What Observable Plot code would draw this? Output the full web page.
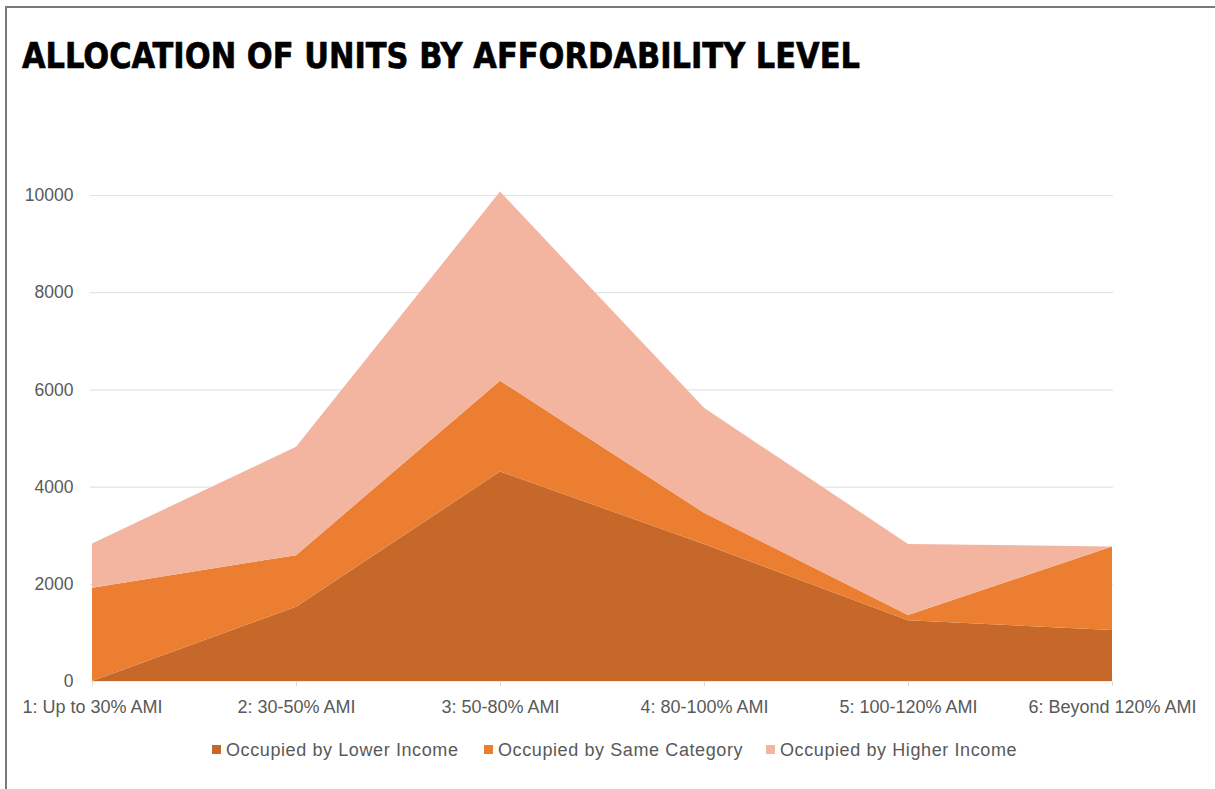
<!DOCTYPE html>
<html>
<head>
<meta charset="utf-8">
<script src="https://cdn.jsdelivr.net/npm/d3@7"></script>
<script src="https://cdn.jsdelivr.net/npm/@observablehq/plot@0.6"></script>
<style>
  html, body { margin: 0; padding: 0; background: #fff; }
  body { width: 1215px; height: 789px; overflow: hidden; position: relative; font-family: "Liberation Sans", Arial, sans-serif; }
  #frame { position: absolute; left: 5px; top: 6px; width: 1300px; height: 900px; border-left: 2px solid #7a7a7a; border-top: 2px solid #7a7a7a; }
  #title { position: absolute; left: 0; top: 0; }
  #chart { position: absolute; left: 0; top: 150px; }
  .leg { position: absolute; top: 740px; font-size: 18px; letter-spacing: 0.6px; color: #595959; white-space: nowrap; }
  .leg span.sw { display: inline-block; width: 9px; height: 9px; margin-right: 5px; vertical-align: 2px; }
</style>
</head>
<body>
<div id="frame"></div>
<svg id="title" width="1215" height="90">
  <text x="22" y="68" textLength="838" lengthAdjust="spacingAndGlyphs" font-family="'DejaVu Sans Condensed', 'Liberation Sans', sans-serif" font-weight="900" font-size="36" fill="#000" stroke="#000" stroke-width="0.6">ALLOCATION OF UNITS BY AFFORDABILITY LEVEL</text>
</svg>
<div id="chart"></div>
<div id="legend"></div>
<script>
const categories = ["1: Up to 30% AMI", "2: 30-50% AMI", "3: 50-80% AMI", "4: 80-100% AMI", "5: 100-120% AMI", "6: Beyond 120% AMI"];
const seriesNames = ["Occupied by Lower Income", "Occupied by Same Category", "Occupied by Higher Income"];
const lowerIncome = [0, 1530, 4310, 2820, 1250, 1050];
const sameCategory = [1920, 1060, 1870, 640, 110, 1720];
const higherIncome = [910, 2230, 3890, 2160, 1460, 0];
const colors = ["#c5682a", "#ec7e31", "#f3b5a0"];
const yTicks = [0, 2000, 4000, 6000, 8000, 10000];

const seriesValues = [lowerIncome, sameCategory, higherIncome];
const data = [];
seriesNames.forEach((s, si) => {
  categories.forEach((c, ci) => data.push({category: c, series: s, value: seriesValues[si][ci]}));
});

const plot = Plot.plot({
  width: 1215,
  height: 570,
  marginLeft: 90,
  marginRight: 102,
  marginTop: 45,
  marginBottom: 39,
  style: {fontFamily: "'Liberation Sans', Arial, sans-serif", overflow: "visible"},
  x: {type: "point", domain: categories, padding: 0},
  y: {domain: [0, 10000]},
  color: {domain: seriesNames, range: colors},
  marks: [
    Plot.ruleY(yTicks.filter(d => d > 0), {stroke: "#e3e3e3", strokeWidth: 1.2}),
    Plot.ruleY([0], {stroke: "#eee"}),
    Plot.areaY(data, {x: "category", y: "value", z: "series", fill: "series", order: seriesNames, curve: "linear"}),
    Plot.axisY({ticks: yTicks, tickSize: 0, tickPadding: 17, tickFormat: d3.format("d"), fontSize: 17.5, fill: "#595959", label: null}),
    Plot.axisX({tickSize: 5, tickPadding: 14, fontSize: 18, fill: "#595959", stroke: "#d9d9d9", label: null})
  ]
});
document.getElementById("chart").appendChild(plot);

const legendX = [212, 484, 766];
const legend = document.getElementById("legend");
seriesNames.forEach((s, i) => {
  const d = document.createElement("div");
  d.className = "leg";
  d.style.left = legendX[i] + "px";
  d.innerHTML = `<span class="sw" style="background:${colors[i]}"></span>${s}`;
  legend.appendChild(d);
});
</script>
</body>
</html>
